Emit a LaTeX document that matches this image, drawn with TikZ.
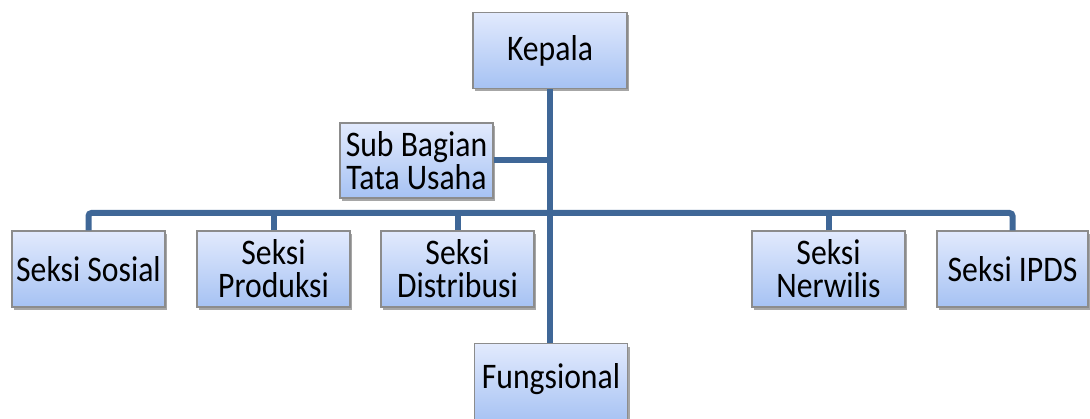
\documentclass[tikz,border=0pt]{standalone}
\usepackage{fontspec}
\setmainfont[FakeStretch=0.88]{Carlito}
\usetikzlibrary{shadows}
\definecolor{linecol}{RGB}{63,103,151}
\definecolor{boxtop}{RGB}{226,234,253}
\definecolor{boxbot}{RGB}{166,194,243}
\definecolor{boxedge}{RGB}{140,140,140}
\tikzset{
  orgbox/.style={rectangle, draw=boxedge, line width=1.2pt, top color=boxtop, bottom color=boxbot,
    minimum width=153pt, minimum height=76pt, inner sep=0pt, align=center,
    font=\fontsize{36}{33}\selectfont,
    drop shadow={shadow xshift=2pt, shadow yshift=-3pt, fill=black, opacity=0.35}},
  orgline/.style={draw=linecol, line width=6pt}
}
\begin{document}
\begin{tikzpicture}[x=1pt,y=-1pt]
\useasboundingbox (0,0) rectangle (1090,419);
\clip (0,0) rectangle (1090,419);
\node[orgbox, minimum width=154pt] (kepala) at (550,50.5) {Kepala};
\node[orgbox, minimum height=75pt] (sub) at (416.5,160.5) {Sub Bagian\\Tata Usaha};
\node[orgbox] (sosial) at (88.5,269) {Seksi Sosial};
\node[orgbox] (produksi) at (273.5,269) {Seksi\\Produksi};
\node[orgbox] (distribusi) at (457.5,269) {Seksi\\Distribusi};
\node[orgbox] (nerwilis) at (828.5,269) {Seksi\\Nerwilis};
\node[orgbox, minimum width=151pt] (ipds) at (1012.5,269) {Seksi IPDS};
\node[orgbox, minimum height=80pt, anchor=north] (fung) at (551,343) {\raisebox{16pt}{Fungsional}};
\coordinate (bar) at (0,213);
\draw[orgline] (kepala.south) -- (kepala.south |- fung.north);
\draw[orgline] (sub.east) -- (sub.east -| kepala.south);
\draw[orgline, rounded corners=3pt] (sosial.north) -- (sosial.north |- bar) -- (ipds.north |- bar) -- (ipds.north);
\draw[orgline] (produksi.north) -- (produksi.north |- bar);
\draw[orgline] (distribusi.north) -- (distribusi.north |- bar);
\draw[orgline] (nerwilis.north) -- (nerwilis.north |- bar);
\end{tikzpicture}
\end{document}
